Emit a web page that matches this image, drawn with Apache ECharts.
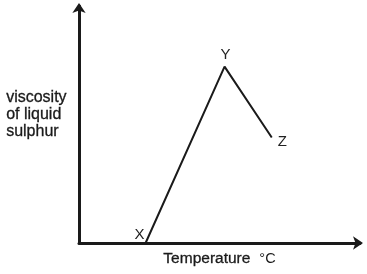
<!DOCTYPE html>
<html><head><meta charset="utf-8">
<script src="https://cdn.jsdelivr.net/npm/echarts@6/dist/echarts.min.js"></script>
<style>html,body{margin:0;padding:0;background:#fff}#c{width:367px;height:274px}</style>
</head><body><div id="c"></div>
<script>
var pointNames = ['X', 'Y', 'Z'];
var temperature = [23.7, 51.8, 68.6];
var viscosity = [0, 74.4, 44.5];
var xTitle = 'Temperature';
var xUnit = '°C';
var yTitle = 'viscosity\nof liquid\nsulphur';

var chart = echarts.init(document.getElementById('c'), null, {renderer: 'canvas'});
var labelPos = ['left', 'top', 'right'];
var labelOff = [[5, -8], [1, 2], [0, 4]];
chart.setOption({
  animation: false,
  grid: {left: 79, right: 7, top: 6, bottom: 31, outerBoundsMode: 'none', containLabel: false},
  xAxis: {
    type: 'value', min: 0, max: 100,
    axisLine: {show: true, lineStyle: {color: '#1a1a1a', width: 3}, symbol: ['none', 'arrow'], symbolSize: [10, 10], symbolOffset: [0, 3]},
    axisTick: {show: false}, axisLabel: {show: false}, splitLine: {show: false},
    name: '{t|' + xTitle + '}{g|}{u|' + xUnit + '}', nameLocation: 'middle', nameGap: 8,
    nameTextStyle: {rich: {
      t: {fontFamily: 'Liberation Sans', fontSize: 15.5, color: '#1a1a1a', textBorderColor: '#1a1a1a', textBorderWidth: 0.3},
      g: {width: 9},
      u: {fontFamily: 'Liberation Sans', fontSize: 14.5, color: '#1a1a1a'}
    }}
  },
  yAxis: {
    type: 'value', min: 0, max: 100,
    axisLine: {show: true, lineStyle: {color: '#1a1a1a', width: 3}, symbol: ['none', 'arrow'], symbolSize: [10, 10], symbolOffset: [0, 3]},
    axisTick: {show: false}, axisLabel: {show: false}, splitLine: {show: false}
  },
  graphic: [{
    type: 'text', left: 6, top: 89,
    style: {text: yTitle, fontFamily: 'Liberation Sans', fontSize: 16, lineHeight: 17, fill: '#1a1a1a', stroke: '#1a1a1a', lineWidth: 0.3}
  }],
  series: [{
    type: 'line',
    data: temperature.map(function (t, i) {
      return {value: [t, viscosity[i]], name: pointNames[i],
        label: {show: true, position: labelPos[i], offset: labelOff[i], formatter: pointNames[i]}};
    }),
    showSymbol: true, symbol: 'circle', symbolSize: 2,
    itemStyle: {color: 'rgba(26,26,26,0)'},
    lineStyle: {color: '#1a1a1a', width: 2},
    label: {show: true, fontFamily: 'Liberation Sans', fontSize: 15, color: '#222'}
  }]
});
</script></body></html>
